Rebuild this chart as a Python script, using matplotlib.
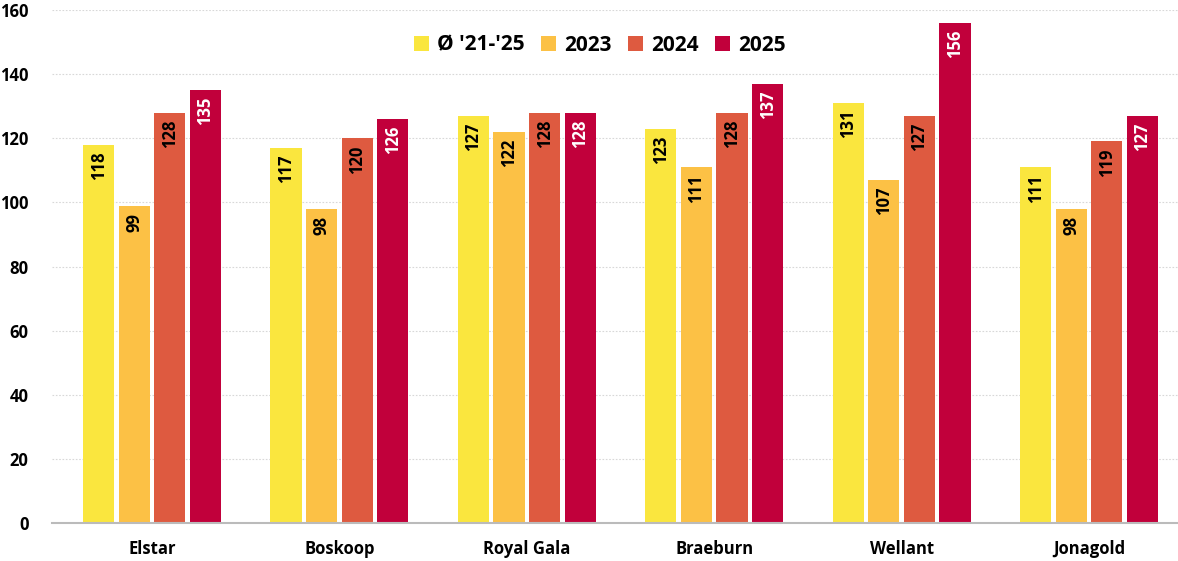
import numpy as np
import matplotlib.pyplot as plt

varieties = ['Elstar', 'Boskoop', 'Royal Gala', 'Braeburn', 'Wellant', 'Jonagold']
series = ["Ø '21-'25", '2023', '2024', '2025']
avg_21_25 = [118, 117, 127, 123, 131, 111]
y2023 = [99, 98, 122, 111, 107, 98]
y2024 = [128, 120, 128, 128, 127, 119]
y2025 = [135, 126, 128, 137, 156, 127]
values = [avg_21_25, y2023, y2024, y2025]

colors = ['#FAE63E', '#FCC145', '#DE5A40', '#C1003B']
text_colors = ['black', 'black', 'black', 'white']

plt.rcParams['font.family'] = ['Open Sans', 'DejaVu Sans']

fig = plt.figure(figsize=(11.78, 5.61), dpi=100)
ax = fig.add_axes([52 / 1178, 1 - 523 / 561, 1 - 52 / 1178, (523 - 10) / 561])

x = np.arange(len(varieties))
step = 0.19
width = 0.166

for i, (vals, name) in enumerate(zip(values, series)):
    pos = x + (i - 1.5) * step
    bars = ax.bar(pos, vals, width, color=colors[i], label=name, zorder=2)
    for b, v in zip(bars, vals):
        ax.annotate(str(v), (b.get_x() + b.get_width() / 2, v),
                    xytext=(0, -5), textcoords='offset points',
                    rotation=90, ha='center', va='top',
                    fontsize=12, fontweight='bold', color=text_colors[i])

ax.set_xlim(-0.534, 5.475)
ax.set_ylim(0, 160)
ax.set_yticks(range(0, 161, 20))
ax.set_xticks(x)
ax.set_xticklabels(varieties, fontsize=12, fontweight='bold')
for lab in ax.get_yticklabels():
    lab.set_fontsize(12)
    lab.set_fontweight('bold')
ax.tick_params(axis='both', length=0)
ax.tick_params(axis='y', pad=17)
ax.tick_params(axis='x', pad=12)

ax.grid(axis='y', color='#d8d8d8', linestyle=(0, (1.5, 1.5)), linewidth=0.8, zorder=0)
for s in ['top', 'right', 'left']:
    ax.spines[s].set_visible(False)
ax.spines['bottom'].set_color('#bbbbbb')
ax.spines['bottom'].set_linewidth(1.5)

# legend centred near the top of the plot
ax.legend(loc='center', bbox_to_anchor=(600 / 1178, 1 - 45 / 561),
          bbox_transform=fig.transFigure, ncol=4,
          frameon=False, handlelength=0.7, handleheight=0.7,
          handletextpad=0.4, columnspacing=0.8,
          prop={'size': 15, 'weight': 'bold'})

plt.savefig('out.png', dpi=100)
